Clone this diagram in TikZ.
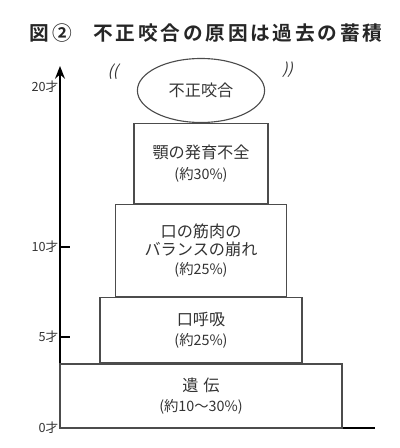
\documentclass[tikz,border=0pt]{standalone}
\usepackage{fontspec}
\usepackage{tikz}
\usetikzlibrary{positioning,shapes.geometric,arrows.meta}
\newfontfamily\jp{Noto Sans CJK JP}
\newfontfamily\jpbold[LetterSpace=14]{Noto Sans CJK JP Bold}
\newcommand{\pctsize}{\fontsize{10.2}{12}\selectfont}

\begin{document}
\begin{tikzpicture}[font=\jp, text=black!80,
  block/.style = {draw=black!70, line width=0.8pt, rectangle, align=center, font=\jp\fontsize{11.5}{15.5}\selectfont, inner sep=0pt},
  cloud/.style = {draw=black!70, line width=0.8pt, ellipse, font=\jp\fontsize{11.5}{14}\selectfont, inner sep=0pt},
  age/.style = {font=\jp\fontsize{9}{10}\selectfont, anchor=east, inner sep=1pt},
  shake/.style = {font=\jp\fontsize{11}{11}\selectfont, xslant=0.25}]
\useasboundingbox (0,0) rectangle (10,11.2);

% title
\node[font=\jpbold\fontsize{14}{16}\selectfont, text=black!85] (title) at (5.15,10.37) {図②\hspace{1.1em}不正咬合の原因は過去の蓄積};

% axes
\coordinate (O) at (1.5,0.5);
\coordinate (top) at (1.5,9.55);
\coordinate (right) at (9.375,0.5);
\draw[line width=1.2pt, -{Stealth[length=9pt,width=7pt]}] (O) -- (top);
\draw[line width=1.2pt] (O) -- (right);

% ticks
\coordinate (t5) at (1.5,2.775);
\coordinate (t10) at (1.5,5.025);
\draw[line width=0.8pt] (t5) -- ++(0.25,0);
\draw[line width=0.8pt] (t10) -- ++(0.25,0);
\node[age] (a0) at (O) {0才};
\node[age] (a5) at (t5) {5才};
\node[age] (a10) at (t10) {10才};
\node[age] (a20) at (1.5,9.03) {20才};

% blocks
\node[block, minimum width=7.05cm, minimum height=1.6cm] (gene) at (5.025,1.3) {遺\hspace{0.3em}伝\\[-1pt] {\pctsize (約10～30\%)}};
\node[block, minimum width=5.05cm, minimum height=1.625cm] (breath) [above=0mm of gene] {口呼吸\\[-1pt] {\pctsize (約25\%)}};
\node[block, minimum width=4.275cm, minimum height=2.3cm] (muscle) [above=0mm of breath] {口の筋肉の\\[-3pt] バランスの崩れ\\[-2pt] {\pctsize (約25\%)}};
\node[block, minimum width=3.35cm, minimum height=2.0cm] (jaw) [above=0mm of muscle] {顎の発育不全\\[-1pt] {\pctsize (約30\%)}};
\node[cloud, minimum width=3.18cm, minimum height=1.6cm] (malocc) [above=0mm of jaw] {不正咬合};

% shake marks
\node[shake] (lm) at (2.85,9.42) {((};
\node[shake] (rm) at (7.22,9.45) {))};
\end{tikzpicture}
\end{document}
